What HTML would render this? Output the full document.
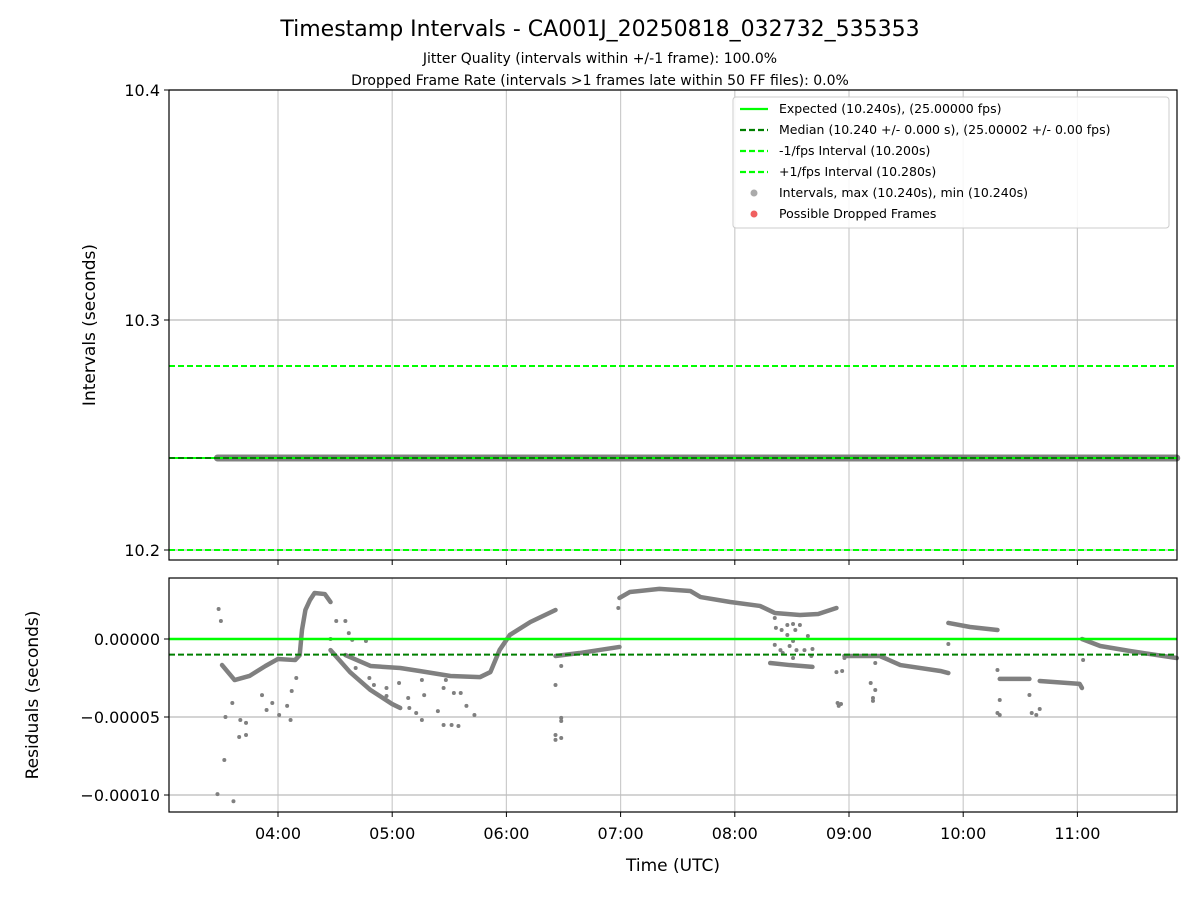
<!DOCTYPE html>
<html><head><meta charset="utf-8"><style>
body{margin:0;background:#fff}
svg{font-family:"DejaVu Sans","Liberation Sans",sans-serif}
</style></head><body>
<svg id="chart" width="1200" height="900" xmlns="http://www.w3.org/2000/svg">
<text x="600" y="36" text-anchor="middle" font-size="22">Timestamp Intervals - CA001J_20250818_032732_535353</text>
<text x="600" y="63" text-anchor="middle" font-size="14">Jitter Quality (intervals within +/-1 frame): 100.0%</text>
<text x="600" y="85" text-anchor="middle" font-size="14">Dropped Frame Rate (intervals &gt;1 frames late within 50 FF files): 0.0%</text>
<g id="top"></g>
<g id="bot"></g>
</svg>
<script>
const hourTicks=[4,5,6,7,8,9,10,11];
const hourLabels=["04:00","05:00","06:00","07:00","08:00","09:00","10:00","11:00"];
const topTicks=[10.2,10.3,10.4];
const topTickLabels=["10.2","10.3","10.4"];
const botTicks=[0,-0.00005,-0.0001];
const botTickLabels=["0.00000","\u22120.00005","\u22120.00010"];
const expected=10.24, median=10.24, lowLim=10.20, highLim=10.28;
const residMedian=-0.00001;
const intervalTimes=[3.47,11.87];
const intervalValues=[10.24,10.24];
const segTimes=[
 [3.51,3.62,3.75,3.89,4.00,4.15,4.19,4.21,4.24,4.28,4.32,4.41,4.46],
 [4.46,4.63,4.81,5.00,5.07],
 [4.59,4.81,5.07,5.24,5.51,5.77,5.86,5.94,6.03,6.21,6.43],
 [6.43,6.64,6.99],
 [6.99,7.08,7.34,7.61,7.70,7.96,8.22,8.35,8.57,8.73,8.89],
 [8.31,8.48,8.68],
 [8.96,9.27,9.45,9.80,9.87],
 [9.87,10.06,10.30],
 [10.32,10.58],
 [10.67,11.02,11.04],
 [11.04,11.20,11.46,11.87]];
const segValues=[
 [-1.67,-2.63,-2.37,-1.73,-1.28,-1.35,-1.03,0.58,1.86,2.5,2.95,2.88,2.37],
 [-0.71,-2.12,-3.27,-4.17,-4.42],
 [-1.03,-1.73,-1.86,-2.05,-2.37,-2.44,-2.12,-0.71,0.26,1.09,1.86],
 [-1.09,-0.90,-0.51],
 [2.63,3.01,3.21,3.08,2.69,2.37,2.12,1.67,1.54,1.60,1.99],
 [-1.54,-1.67,-1.79],
 [-1.09,-1.09,-1.67,-2.05,-2.18],
 [1.03,0.77,0.58],
 [-2.56,-2.56],
 [-2.69,-2.88,-3.14],
 [0,-0.45,-0.77,-1.22]];
const outTimes=[3.47,3.61,3.53,3.48,3.5,3.54,3.66,3.72,3.67,3.72,3.6,3.9,4.01,4.11,4.08,3.95,3.86,4.12,4.16,
 4.51,4.59,4.62,4.46,4.65,4.77,4.68,4.8,4.84,4.95,4.95,5.06,5.14,5.15,5.21,5.26,5.28,5.40,5.45,5.52,5.58,5.65,5.72,5.45,5.54,5.60,5.47,5.26,
 6.43,6.48,6.48,6.43,6.43,6.48,6.48,6.98,
 8.35,8.36,8.46,8.51,8.57,8.41,8.53,8.46,8.64,8.51,8.35,8.4,8.48,8.54,8.61,8.68,8.67,8.42,8.51,
 8.89,8.94,8.9,8.93,8.91,8.96,9.23,9.19,9.23,9.21,9.21,9.87,
 10.30,10.32,10.30,10.32,10.58,10.60,10.64,10.67,11.05];
const outValues=[-9.94,-10.4,-7.76,1.92,1.15,-5.0,-6.28,-6.15,-5.19,-5.38,-4.1,-4.55,-4.87,-5.19,-4.29,-4.1,-3.6,-3.33,-2.5,
 1.15,1.15,0.38,0,-0.06,-0.13,-1.86,-2.5,-2.95,-3.14,-3.65,-2.82,-3.78,-4.42,-4.74,-5.19,-3.6,-4.62,-5.51,-5.51,-5.58,-4.29,-4.87,-3.14,-3.46,-3.46,-2.63,-2.63,
 -2.95,-5.06,-5.26,-6.15,-6.47,-6.35,-1.73,1.99,
 1.35,0.71,0.9,0.96,0.9,0.58,0.58,0.26,0.19,-0.13,-0.38,-0.71,-0.45,-0.71,-0.71,-0.64,-1.09,-0.9,-1.22,
 -2.12,-2.05,-4.1,-4.17,-4.29,-1.22,-1.54,-2.82,-3.27,-3.78,-3.97,-0.32,
 -1.99,-3.91,-4.74,-4.87,-3.59,-4.74,-4.87,-4.49,-1.35];

const NS="http://www.w3.org/2000/svg";
const L=169,R=1177;
const x=h=>278+(h-4)*114.2;
const yTop=v=>320-(v-10.3)*2300;
const yBot=v=>639-v*1560000;
function mk(p,tag,a,txt){const e=document.createElementNS(NS,tag);for(const k in a)e.setAttribute(k,a[k]);if(txt!==undefined)e.textContent=txt;p.appendChild(e);return e;}
const gTop=document.getElementById('top'), gBot=document.getElementById('bot');

function axes(g,y0,y1,ticks,labels,yf,name){
  hourTicks.forEach((h,i)=>{const l=mk(g,'line',{x1:x(h),x2:x(h),y1:y0,y2:y1,stroke:'#cccccc','stroke-width':1.2});
    
    const t=mk(g,'line',{x1:x(h),x2:x(h),y1:y1,y2:y1+5,stroke:'#000'});
    });
  ticks.forEach((v,i)=>{const yy=yf(v);
    const l=mk(g,'line',{x1:L,x2:R,y1:yy,y2:yy,stroke:'#bbbbbb','stroke-width':1.2});
    
    const t=mk(g,'line',{x1:L-5,x2:L,y1:yy,y2:yy,stroke:'#000'});
    
    const tx=mk(g,'text',{x:L-9,y:yy+6,'text-anchor':'end','font-size':16},labels[i]);
    });
}
axes(gTop,90,560,topTicks,topTickLabels,yTop,'intervals-y');
axes(gBot,578,812,botTicks,botTickLabels,yBot,'residuals-y');

[[highLim,'#00ff00','6,3','plus-fps-line'],[lowLim,'#00ff00','6,3','minus-fps-line']].forEach(d=>{
  const l=mk(gTop,'line',{x1:L,x2:R,y1:yTop(d[0]),y2:yTop(d[0]),stroke:d[1],'stroke-width':2,'stroke-dasharray':d[2]});
  });
const band=mk(gTop,'line',{x1:x(intervalTimes[0]),x2:x(intervalTimes[1]),y1:yTop(intervalValues[0]),y2:yTop(intervalValues[1]),stroke:'#808080','stroke-width':7,'stroke-linecap':'round'});

const ex=mk(gTop,'line',{x1:L,x2:R,y1:yTop(expected),y2:yTop(expected),stroke:'#00ff00','stroke-width':2});

const md=mk(gTop,'line',{x1:L,x2:R,y1:yTop(median),y2:yTop(median),stroke:'#007f00','stroke-width':2,'stroke-dasharray':'6,3'});


segTimes.forEach((ts,i)=>{const pts=ts.map((t,j)=>x(t)+','+yBot(segValues[i][j]*1e-5)).join(' ');
  const p=mk(gBot,'polyline',{points:pts,fill:'none',stroke:'#808080','stroke-width':4.5,'stroke-linecap':'round','stroke-linejoin':'round'});
  });
outTimes.forEach((t,i)=>{const c=mk(gBot,'circle',{cx:x(t),cy:yBot(outValues[i]*1e-5),r:2,fill:'#808080'});
  });
const e0=mk(gBot,'line',{x1:L,x2:R,y1:yBot(0),y2:yBot(0),stroke:'#00ff00','stroke-width':2.5});

const m0=mk(gBot,'line',{x1:L,x2:R,y1:yBot(residMedian),y2:yBot(residMedian),stroke:'#007f00','stroke-width':2,'stroke-dasharray':'6,3'});


[[gTop,90,560],[gBot,578,812]].forEach(d=>{const r=mk(d[0],'rect',{x:L,y:d[1],width:R-L,height:d[2]-d[1],fill:'none',stroke:'#000','stroke-width':1.2});
  });
hourTicks.forEach((h,i)=>{const t=mk(gBot,'text',{x:x(h),y:839,'text-anchor':'middle','font-size':16},hourLabels[i]);
  });
let t=mk(gBot,'text',{x:673,y:871,'text-anchor':'middle','font-size':17},'Time (UTC)');

t=mk(gTop,'text',{x:95,y:325,'text-anchor':'middle','font-size':17,transform:'rotate(-90 95 325)'},'Intervals (seconds)');

t=mk(gBot,'text',{x:38,y:695,'text-anchor':'middle','font-size':17,transform:'rotate(-90 38 695)'},'Residuals (seconds)');


const lg=mk(gTop,'g',{});

const lr=mk(lg,'rect',{x:733,y:97,width:436,height:131,rx:3,fill:'#fff','fill-opacity':0.85,stroke:'#cccccc'});

const items=[['line','#00ff00','', 'Expected (10.240s), (25.00000 fps)'],
 ['line','#007f00','6,3','Median (10.240 +/- 0.000 s), (25.00002 +/- 0.00 fps)'],
 ['line','#00ff00','6,3','-1/fps Interval (10.200s)'],
 ['line','#00ff00','6,3','+1/fps Interval (10.280s)'],
 ['dot','#aaaaaa','','Intervals, max (10.240s), min (10.240s)'],
 ['dot','#f06060','','Possible Dropped Frames']];
items.forEach((it,i)=>{const yy=109+i*21;
  let m;
  if(it[0]==='line') m=mk(lg,'line',{x1:740,x2:768,y1:yy,y2:yy,stroke:it[1],'stroke-width':2.2,'stroke-dasharray':it[2]||'none'});
  else m=mk(lg,'circle',{cx:754,cy:yy,r:3.5,fill:it[1]});
  
  const tx=mk(lg,'text',{x:779,y:yy+4,'font-size':12.5},it[3]);
  });
</script>
</body></html>
